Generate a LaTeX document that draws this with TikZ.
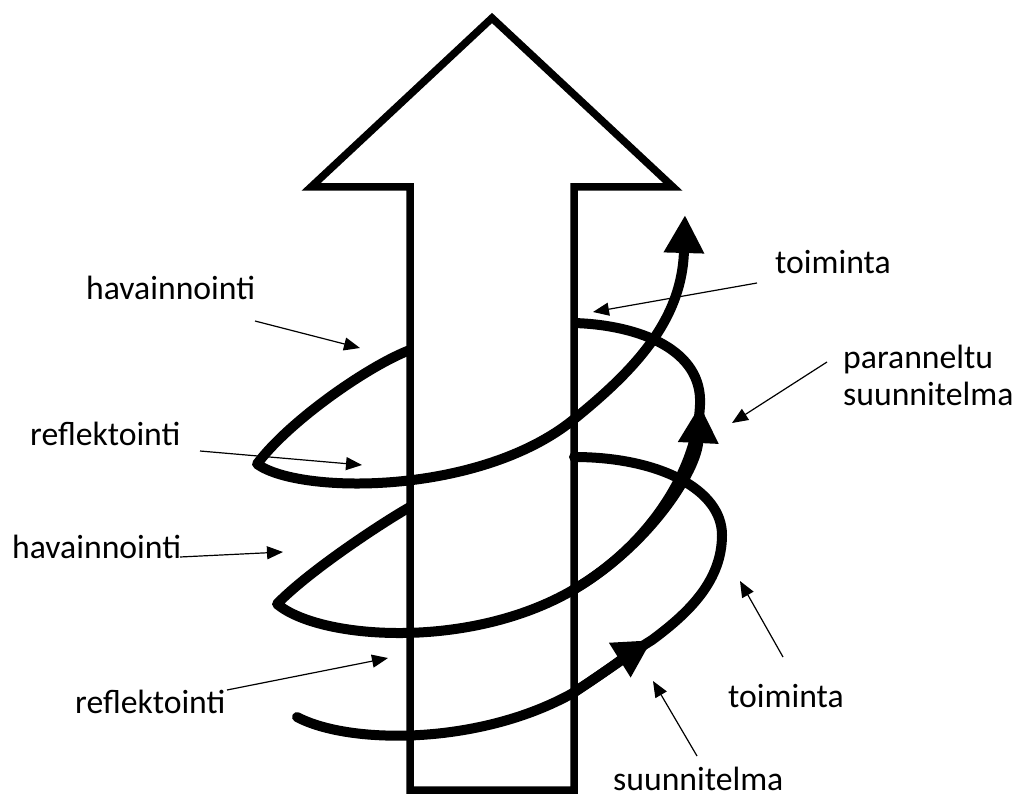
\documentclass[tikz,border=0pt]{standalone}
\usepackage{fontspec}
\setmainfont{Carlito}
\usetikzlibrary{arrows.meta,positioning}
\definecolor{inkBlack}{RGB}{0, 0, 0}

\begin{document}
\begin{tikzpicture}[x=1pt, y=-1pt,
    labeltext/.style={inner sep=0pt, anchor=base west, font=\fontsize{33.7pt}{40pt}\selectfont},
    pointer/.style={-{Triangle[length=16pt,width=13pt]}, line width=1.2pt, color=inkBlack},
    spiral/.style={line width=10pt, color=inkBlack, line join=round},
    spiraltip/.style={-{Triangle[length=38pt,width=38pt]}}
  ]
  \useasboundingbox (0,0) rectangle (1018,797);

  % the big arrow
  \draw[line width=7.5pt, color=inkBlack, fill=white, line join=miter]
    (410,790) -- (410,187) -- (311,187) -- (492,18) -- (673,187) -- (574,187) -- (574,790) -- cycle;

  % lowest turn
  \draw[spiral, line cap=round] (297,717) .. controls (350,745) and (480,745) .. (573,693)
    .. controls (608,670) and (628,655) .. (652,640)
    .. controls (690,612) and (722,580) .. (722,535)
    .. controls (722,490) and (660,457) .. (574,457);
  \draw[spiral, spiraltip] (573,693) .. controls (608,670) and (628,655) .. (652,640);

  % middle turn
  \draw[spiral] (410,507) .. controls (385,521) and (310,570) .. (277,604)
    .. controls (320,640) and (470,650) .. (573,590)
    .. controls (650,545) and (697,470) .. (700,405)
    .. controls (703,350) and (640,325) .. (574,323);
  \draw[spiral, spiraltip] (573,590) .. controls (650,545) and (697,470) .. (700,405);

  % top turn
  \draw[spiral, spiraltip] (410,350) .. controls (370,365) and (290,420) .. (257,464)
    .. controls (300,495) and (480,495) .. (573,420)
    .. controls (635,370) and (682,320) .. (685,215);

  % labels
  \node[labeltext] (hav1) at (86,299) {havainnointi};
  \node[labeltext] (refl1) at (30,445) {reflektointi};
  \node[labeltext] (hav2) at (12,558) {havainnointi};
  \node[labeltext] (refl2) at (75,713) {reflektointi};
  \node[labeltext] (toim1) at (775,273) {toiminta};
  \node[labeltext] (paran) at (843,368) {paranneltu};
  \node[labeltext] (suunn1) at (843,405) {suunnitelma};
  \node[labeltext] (toim2) at (728,707) {toiminta};
  \node[labeltext] (suunn2) at (613,790) {suunnitelma};

  % pointer ends
  \coordinate (hav1-from) at (255,321);   \coordinate (hav1-to) at (360,348);
  \coordinate (refl1-from) at (200,451);  \coordinate (refl1-to) at (362,465);
  \coordinate (hav2-from) at (180,557);   \coordinate (hav2-to) at (283,552);
  \coordinate (refl2-from) at (227,690);  \coordinate (refl2-to) at (388,658);
  \coordinate (toim1-from) at (757,283);  \coordinate (toim1-to) at (593,312);
  \coordinate (paran-from) at (827,362);  \coordinate (paran-to) at (732,423);
  \coordinate (toim2-from) at (783,657);  \coordinate (toim2-to) at (740,581);
  \coordinate (suunn2-from) at (697,756); \coordinate (suunn2-to) at (653,681);

  \draw[pointer] (hav1-from) -- (hav1-to);
  \draw[pointer] (refl1-from) -- (refl1-to);
  \draw[pointer] (hav2-from) -- (hav2-to);
  \draw[pointer] (refl2-from) -- (refl2-to);
  \draw[pointer] (toim1-from) -- (toim1-to);
  \draw[pointer] (paran-from) -- (paran-to);
  \draw[pointer] (toim2-from) -- (toim2-to);
  \draw[pointer] (suunn2-from) -- (suunn2-to);
\end{tikzpicture}
\end{document}
